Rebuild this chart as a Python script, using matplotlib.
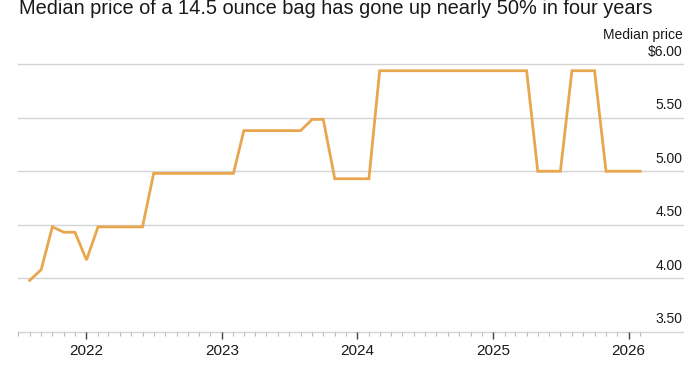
import numpy as np
import pandas as pd
import matplotlib
matplotlib.use("Agg")
import matplotlib.pyplot as plt
import matplotlib.transforms as mtransforms

plt.rcParams['font.family'] = ['Liberation Sans', 'DejaVu Sans']

# monthly median price, Aug 2021 - Feb 2026
months = pd.date_range("2021-08-01", "2026-02-01", freq="MS")
prices = [3.98, 4.08, 4.48, 4.43, 4.43,                       # 2021
          4.17, 4.48, 4.48, 4.48, 4.48, 4.48, 4.98, 4.98, 4.98, 4.98, 4.98, 4.98,  # 2022
          4.98, 4.98, 5.38, 5.38, 5.38, 5.38, 5.38, 5.38, 5.485, 5.485, 4.93, 4.93,  # 2023
          4.93, 4.93, 5.94, 5.94, 5.94, 5.94, 5.94, 5.94, 5.94, 5.94, 5.94, 5.94,  # 2024
          5.94, 5.94, 5.94, 5.94, 5.00, 5.00, 5.00, 5.94, 5.94, 5.94, 5.00, 5.00,  # 2025
          5.00, 5.00]                                                  # 2026
y_ticks = [3.5, 4.0, 4.5, 5.0, 5.5, 6.0]
y_labels = ["3.50", "4.00", "4.50", "5.00", "5.50", "$6.00"]
years = ["2022", "2023", "2024", "2025", "2026"]

title = "Median price of a 14.5 ounce bag has gone up nearly 50% in four years"
line_color = "#E8A64E"
grid_color = "#D4D4D4"
text_color = "#1a1a1a"

fig = plt.figure(figsize=(7, 3.75), dpi=100)
ax = fig.add_axes([0.026, 0.1155, 0.949, 0.713])

ax.plot(months, prices, color=line_color, lw=2.0, solid_joinstyle="miter", zorder=3)

ax.set_ylim(3.5, 6.0)
ax.set_xlim(pd.Timestamp("2021-07-13"), pd.Timestamp("2026-05-26"))

for s in ax.spines.values():
    s.set_visible(False)

for v in y_ticks:
    ax.axhline(v, color=grid_color, lw=1.0, zorder=1, clip_on=False)

ax.set_yticks([])
trans = mtransforms.blended_transform_factory(ax.transAxes, ax.transData)
off = mtransforms.offset_copy(trans, fig=fig, x=0, y=4, units="points")
for v, lab in zip(y_ticks, y_labels):
    ax.text(1.0, v, lab, transform=off, ha="right", va="bottom",
            fontsize=10, color=text_color)
ax.text(1.0, 6.0, "Median price", transform=mtransforms.offset_copy(trans, fig=fig, x=0, y=16, units="points"),
        ha="right", va="bottom", fontsize=10, color=text_color)

major = [pd.Timestamp(f"{y}-01-01") for y in years]
minor = pd.date_range("2021-07-01", "2026-02-01", freq="MS")
ax.set_xticks(major)
ax.set_xticklabels(years, fontsize=11, color=text_color)
ax.set_xticks(minor, minor=True)
ax.tick_params(axis="x", which="major", length=5, width=1, color="#444444", pad=4)
ax.tick_params(axis="x", which="minor", length=3, width=0.8, color="#BBBBBB")

fig.text(0.027, 0.962, title, ha="left", va="baseline", fontsize=14.4, color=text_color)

fig.savefig("out.png", dpi=100, facecolor="white")
